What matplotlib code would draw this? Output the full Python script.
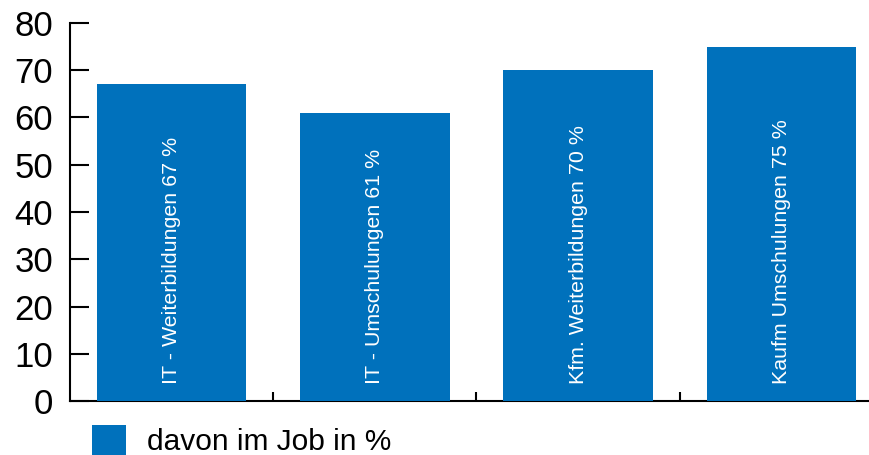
import matplotlib

matplotlib.use("Agg")
import matplotlib.pyplot as plt

categories = ["IT - Weiterbildungen", "IT - Umschulungen",
              "Kfm. Weiterbildungen", "Kaufm Umschulungen"]
values = [67, 61, 70, 75]
legend_label = "davon im Job in %"
yticks = [0, 10, 20, 30, 40, 50, 60, 70, 80]

BLUE = "#0071bc"
plt.rcParams["font.family"] = ["Liberation Sans", "DejaVu Sans"]

fig = plt.figure(figsize=(8.7, 4.55), dpi=100)
ax = fig.add_axes([70 / 870, 54 / 455, 813 / 870, 378 / 455])

x = list(range(len(values)))
bars = ax.bar(x, values, width=0.735, color=BLUE, label=legend_label, zorder=3)

for xi, cat, v in zip(x, categories, values):
    ax.text(xi, 3.6, f"{cat} {v} %", rotation=90, ha="center", va="bottom",
            color="white", fontsize=15.4, zorder=4)

ax.set_xlim(-0.5, 3.5)
ax.set_ylim(0, 80)
ax.set_yticks(yticks)
ax.set_xticks([0.5, 1.5, 2.5])
ax.set_xticklabels([])
ax.tick_params(axis="y", direction="in", length=14, width=1.5, pad=12,
               labelsize=25)
ax.tick_params(axis="x", direction="in", length=6.5, width=1.5)
for s in ("top", "right"):
    ax.spines[s].set_visible(False)
for s in ("left", "bottom"):
    ax.spines[s].set_linewidth(1.5)

ax.legend(loc="upper left", bbox_to_anchor=(92 / 870, 1 - 425 / 455),
          bbox_transform=fig.transFigure, frameon=False, fontsize=21.5,
          handlelength=1.14, handleheight=1.2, handletextpad=0.7,
          borderpad=0, borderaxespad=0)

fig.savefig("out.png", dpi=100)
